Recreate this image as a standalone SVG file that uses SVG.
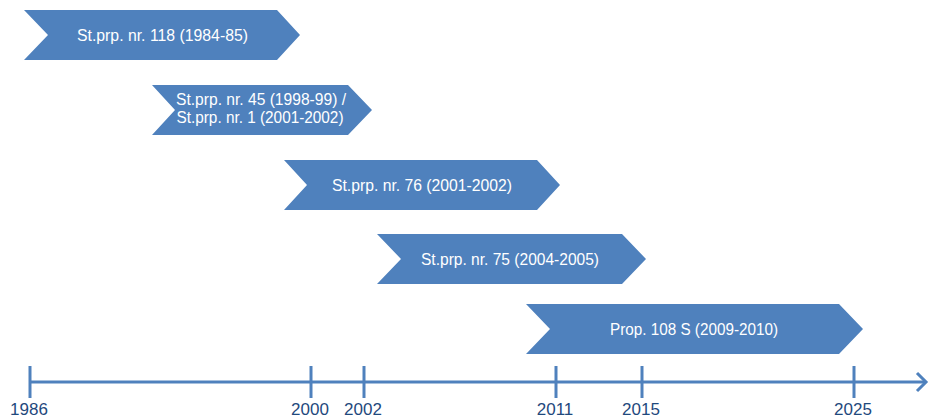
<svg xmlns="http://www.w3.org/2000/svg" width="929" height="419" viewBox="0 0 929 419">
<style>
.chev{fill:#4f81bd}
.lbl{fill:#ffffff;font-family:"Liberation Sans",Arial,sans-serif;font-size:16px;text-anchor:middle}
.axis{stroke:#4f81bd;stroke-width:3;fill:none}
.yr{fill:#1f497d;font-family:"Liberation Sans",Arial,sans-serif;font-size:17px;text-anchor:middle}
</style>
<rect width="929" height="419" fill="#ffffff"/>
<g id="n1">
<polygon class="chev" points="24,10 277,10 300,35 277,60 24,60 48,35"/>
<text class="lbl" x="162.5" y="40.5" textLength="171" lengthAdjust="spacingAndGlyphs">St.prp. nr. 118 (1984-85)</text>
</g>
<g id="n2">
<polygon class="chev" points="152,85 348,85 372,110 348,135 152,135 175,110"/>
<text class="lbl" x="261" y="105" textLength="170" lengthAdjust="spacingAndGlyphs">St.prp. nr. 45 (1998-99) /</text>
<text class="lbl" x="260" y="123" textLength="167" lengthAdjust="spacingAndGlyphs">St.prp. nr. 1 (2001-2002)</text>
</g>
<g id="n3">
<polygon class="chev" points="284,160 537,160 560,185 537,210 284,210 307,185"/>
<text class="lbl" x="422" y="190.5" textLength="180" lengthAdjust="spacingAndGlyphs">St.prp. nr. 76 (2001-2002)</text>
</g>
<g id="n4">
<polygon class="chev" points="377,234 622,234 646,259 622,284 377,284 401,259"/>
<text class="lbl" x="510" y="264.5" textLength="178" lengthAdjust="spacingAndGlyphs">St.prp. nr. 75 (2004-2005)</text>
</g>
<g id="n5">
<polygon class="chev" points="526,304 839,304 863,329 839,354 526,354 550,329"/>
<text class="lbl" x="694" y="334.5" textLength="168" lengthAdjust="spacingAndGlyphs">Prop. 108 S (2009-2010)</text>
</g>
<g id="connectors">
<line class="axis" x1="30" y1="382" x2="926" y2="382"/>
<polyline class="axis" points="917,373 926,382 917,391"/>
<line class="axis" x1="30" y1="366" x2="30" y2="398"/>
<line class="axis" x1="311" y1="366" x2="311" y2="398"/>
<line class="axis" x1="364" y1="366" x2="364" y2="398"/>
<line class="axis" x1="556" y1="366" x2="556" y2="398"/>
<line class="axis" x1="642" y1="366" x2="642" y2="398"/>
<line class="axis" x1="854" y1="366" x2="854" y2="398"/>
</g>
<g id="labels">
<text class="yr" x="29" y="415">1986</text>
<text class="yr" x="310" y="415">2000</text>
<text class="yr" x="363" y="415">2002</text>
<text class="yr" x="555" y="415">2011</text>
<text class="yr" x="641" y="415">2015</text>
<text class="yr" x="853" y="415">2025</text>
</g>
</svg>
